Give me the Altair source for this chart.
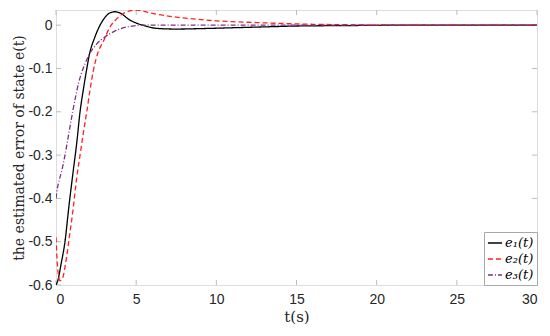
import altair as alt
import pandas as pd

# ---- data ----
t1 = [0, 0.15, 0.3, 0.56, 0.8, 1.08, 1.3, 1.5, 1.7, 1.9, 2.1, 2.4, 2.75, 3.1, 3.4, 3.7, 4.0, 4.6, 5.0, 5.5, 6.0, 6.5, 7.5, 9, 11, 13, 15, 18, 22, 26, 30]
e1 = [-0.6, -0.585, -0.555, -0.5, -0.42, -0.335, -0.27, -0.2, -0.15, -0.105, -0.065, -0.03, 0.0, 0.02, 0.029, 0.031, 0.028, 0.012, 0.005, -0.001, -0.006, -0.008, -0.009, -0.008, -0.006, -0.004, -0.002, -0.001, 0, 0, 0]

t2 = [0, 0.1, 0.25, 0.4, 0.6, 0.83, 1.05, 1.3, 1.5, 1.7, 1.92, 2.12, 2.33, 2.6, 2.96, 3.37, 3.8, 4.2, 4.6, 4.95, 5.4, 5.9, 7.0, 8.4, 10, 11, 12.5, 14, 16, 18, 21, 25, 30]
e2 = [-0.49, -0.56, -0.59, -0.585, -0.55, -0.49, -0.43, -0.35, -0.3, -0.25, -0.2, -0.15, -0.105, -0.065, -0.037, -0.004, 0.015, 0.027, 0.033, 0.035, 0.033, 0.028, 0.021, 0.015, 0.01, 0.008, 0.006, 0.004, 0.002, 0.001, 0, 0, 0]

t3 = [0, 0.05, 0.15, 0.35, 0.56, 0.8, 1.04, 1.25, 1.4, 1.55, 1.8, 2.1, 2.5, 3.06, 3.6, 4.2, 4.8, 5.46, 6.5, 8, 10, 15, 20, 30]
e3 = [-0.4, -0.385, -0.365, -0.338, -0.3, -0.25, -0.2, -0.16, -0.135, -0.115, -0.09, -0.066, -0.045, -0.027, -0.015, -0.006, -0.002, 0, 0, 0, 0, 0, 0, 0]

names = ["e₁(t)", "e₂(t)", "e₃(t)"]
x_ticks = [0, 5, 10, 15, 20, 25, 30]
y_ticks = [-0.6, -0.5, -0.4, -0.3, -0.2, -0.1, 0]

rows = []
for name, ts, vs in zip(names, [t1, t2, t3], [e1, e2, e3]):
    for t, v in zip(ts, vs):
        rows.append({"t": t, "v": v, "series": name})
df = pd.DataFrame(rows)

W, H = 481, 275
GRAY = "#bdbdbd"
SERIF = "'DejaVu Serif', 'Liberation Serif', serif"

xscale = alt.Scale(domain=[0, 30], nice=False, zero=False)
yscale = alt.Scale(domain=[-0.6, 0.035], nice=False, zero=False)

lines = alt.Chart(df).mark_line(strokeWidth=1.3, clip=True, interpolate="monotone").encode(
    x=alt.X("t:Q", scale=xscale,
            axis=alt.Axis(values=x_ticks, title="t(s)", grid=False, ticks=False,
                          domain=False, labelPadding=7, titlePadding=3,
                          labelFontSize=14, titleFontSize=15, labelFont="Liberation Sans",
                          titleFont=SERIF, labelColor="#262626", titleColor="#262626",
                          titleFontWeight="normal")),
    y=alt.Y("v:Q", scale=yscale,
            axis=alt.Axis(values=y_ticks, title="the estimated error of state e(t)",
                          grid=False, ticks=False, domain=False, labelPadding=4,
                          titleX=-37, titleBaseline="middle", titleAngle=270,
                          labelFontSize=14, titleFontSize=14,
                          labelFont="Liberation Sans", titleFont=SERIF,
                          labelColor="#262626", titleColor="#262626", titleFontWeight="normal",
                          labelExpr="datum.value == 0 ? '0' : '-' + format(abs(datum.value), '.1f')")),
    color=alt.Color("series:N",
                    scale=alt.Scale(domain=names, range=["#000000", "#ff2020", "#7e2f8e"]),
                    legend=alt.Legend(title=None, orient="bottom-right", offset=0,
                                      symbolType="stroke", symbolSize=200, symbolStrokeWidth=1.3,
                                      labelFont=SERIF, labelFontSize=13,
                                      labelFontStyle="italic", labelFontWeight="normal",
                                      labelColor="#000000",
                                      strokeColor="#a8a8a8", fillColor="white",
                                      padding=3, rowPadding=1, labelOffset=2)),
    strokeDash=alt.StrokeDash("series:N",
                              scale=alt.Scale(domain=names, range=[[1, 0], [5, 3], [5, 2, 1, 2]]),
                              legend=None),
)

xt = pd.DataFrame({"t": x_ticks})
yt = pd.DataFrame({"v": y_ticks})

xb = alt.Chart(xt).mark_rule(color=GRAY, strokeWidth=1).encode(
    x="t:Q", y=alt.value(H), y2=alt.value(H - 5))
xtop = alt.Chart(xt).mark_rule(color=GRAY, strokeWidth=1).encode(
    x="t:Q", y=alt.value(0), y2=alt.value(5))
yl = alt.Chart(yt).mark_rule(color=GRAY, strokeWidth=1).encode(
    y="v:Q", x=alt.value(0), x2=alt.value(5))
yr = alt.Chart(yt).mark_rule(color=GRAY, strokeWidth=1).encode(
    y="v:Q", x=alt.value(W), x2=alt.value(W - 5))

chart = alt.layer(xb, xtop, yl, yr, lines).properties(
    width=W, height=H,
    autosize=alt.AutoSizeParams(type="none"),
    padding={"left": 48, "top": 2, "right": 5, "bottom": 40},
).configure_view(stroke=GRAY, strokeWidth=1).configure(background="white")

chart.save("out.html", embed_options={"renderer": "svg", "actions": False})
